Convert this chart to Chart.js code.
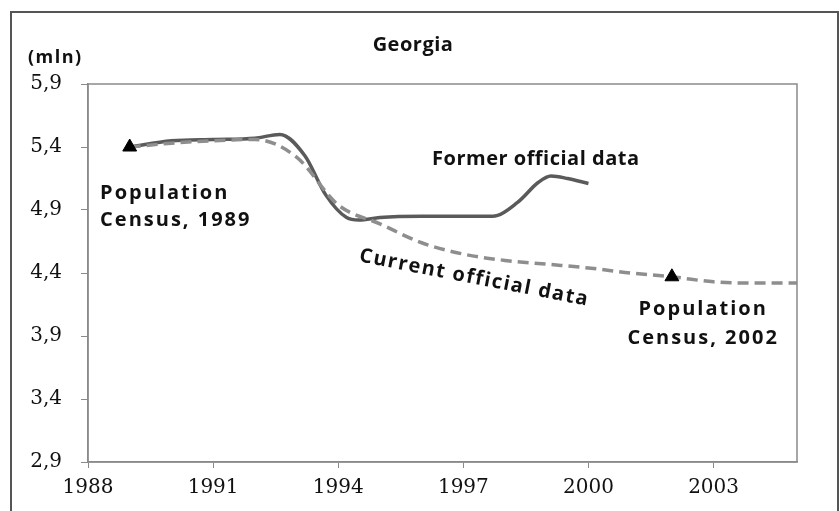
<!DOCTYPE html>
<html>
<head>
<meta charset="utf-8">
<script src="https://cdn.jsdelivr.net/npm/chart.js@4.4.1/dist/chart.umd.min.js"></script>
<style>
  html, body { margin: 0; padding: 0; background: #fff; }
  #wrap { position: relative; width: 840px; height: 511px; }
</style>
</head>
<body>
<div id="wrap"><canvas id="chart" width="840" height="511"></canvas></div>
<script>
// former official data (solid line)
const formerYears  = [1989, 1990, 1991, 1992, 1992.6, 1993.2, 1993.7, 1994.2, 1994.5, 1995, 1996, 1997, 1997.7, 1998.3, 1998.8, 1999.1, 1999.5, 2000];
const formerValues = [5.40, 5.45, 5.46, 5.47, 5.50, 5.33, 5.02, 4.84, 4.82, 4.84, 4.85, 4.85, 4.85, 4.96, 5.12, 5.17, 5.15, 5.11];

// current official data (dashed line)
const currentYears  = [1989, 1990, 1991, 1992, 1993, 1994, 1995, 1996, 1997, 1998, 1999, 2000, 2001, 2002, 2003, 2004, 2005];
const currentValues = [5.40, 5.43, 5.45, 5.46, 5.32, 4.94, 4.79, 4.64, 4.55, 4.50, 4.47, 4.44, 4.40, 4.37, 4.33, 4.32, 4.32];

// census markers
const censusYears  = [1989, 2002];
const censusValues = [5.40, 4.37];

const xTicks = [1988, 1991, 1994, 1997, 2000, 2003];
const yTicks = [2.9, 3.4, 3.9, 4.4, 4.9, 5.4, 5.9];

const toPoints = (xs, ys) => xs.map((x, i) => ({ x, y: ys[i] }));

const textFont = "'Open Sans', sans-serif";

// labels, frame and plot box
const decorPlugin = {
  id: "decor",
  afterDraw(chart) {
    const { ctx, chartArea: a, scales: { x, y } } = chart;
    ctx.save();

    // outer frame
    ctx.strokeStyle = "#555";
    ctx.lineWidth = 2;
    ctx.beginPath();
    ctx.moveTo(11, 520);
    ctx.lineTo(11, 12);
    ctx.lineTo(838, 12);
    ctx.lineTo(838, 520);
    ctx.stroke();

    // plot box
    ctx.strokeStyle = "#8a8a8a";
    ctx.lineWidth = 1.5;
    ctx.strokeRect(a.left, a.top, a.right - a.left, a.bottom - a.top);

    ctx.fillStyle = "#111";
    ctx.textBaseline = "middle";

    ctx.font = "bold 20px " + textFont;
    ctx.letterSpacing = "0.5px";
    ctx.textAlign = "center";
    ctx.fillText("Georgia", 413, 45);

    ctx.font = "bold 18px " + textFont;
    ctx.letterSpacing = "1.5px";
    ctx.textAlign = "left";
    ctx.fillText("(mln)", 28, 58);

    const px = v => x.getPixelForValue(v);
    const py = v => y.getPixelForValue(v);

    ctx.font = "bold 20px " + textFont;
    ctx.letterSpacing = "2px";
    ctx.textAlign = "left";
    ctx.fillText("Population", px(1988.29), py(5.035));
    ctx.fillText("Census, 1989", px(1988.29), py(4.82));
    ctx.textAlign = "center";
    ctx.fillText("Population", px(2002.75), py(4.11));
    ctx.fillText("Census, 2002", px(2002.75), py(3.88));

    ctx.letterSpacing = "0.5px";
    ctx.textAlign = "left";
    ctx.fillText("Former official data", px(1996.25), py(5.30));

    ctx.translate(px(1997.26), py(4.36));
    ctx.rotate(11 * Math.PI / 180);
    ctx.textAlign = "center";
    ctx.letterSpacing = "1.5px";
    ctx.fillText("Current official data", 0, 0);

    ctx.restore();
  }
};

new Chart(document.getElementById("chart").getContext("2d"), {
  type: "line",
  data: {
    datasets: [
      {
        label: "Census",
        data: toPoints(censusYears, censusValues),
        showLine: false,
        pointStyle: "triangle",
        pointRadius: 8,
        backgroundColor: "#000",
        borderColor: "#000",
        order: 0
      },
      {
        label: "Former official data",
        data: toPoints(formerYears, formerValues),
        borderColor: "#5a5a5a",
        borderWidth: 3.5,
        pointRadius: 0,
        tension: 0.4,
        cubicInterpolationMode: "monotone",
        order: 2
      },
      {
        label: "Current official data",
        data: toPoints(currentYears, currentValues),
        borderColor: "#8e8e8e",
        borderWidth: 3.5,
        borderDash: [11, 6],
        pointRadius: 0,
        tension: 0.4,
        cubicInterpolationMode: "monotone",
        order: 1
      }
    ]
  },
  options: {
    responsive: false,
    animation: false,
    layout: { padding: { top: 84, right: 43, left: 0, bottom: 0 } },
    plugins: {
      legend: { display: false },
      tooltip: { enabled: false }
    },
    scales: {
      x: {
        type: "linear",
        min: 1988,
        max: 2005,
        afterBuildTicks: (axis) => { axis.ticks = xTicks.map(v => ({ value: v })); },
        afterFit: (axis) => { axis.height = 49; },
        grid: { display: true, drawOnChartArea: false, drawTicks: true, tickLength: 6, color: "#8a8a8a" },
        border: { color: "#8a8a8a", width: 1.5 },
        ticks: {
          color: "#111",
          padding: 8,
          maxRotation: 0,
          font: { family: "'DejaVu Serif', serif", size: 20 },
          callback: (v) => String(v)
        }
      },
      y: {
        min: 2.9,
        max: 5.9,
        afterBuildTicks: (axis) => { axis.ticks = yTicks.map(v => ({ value: v })); },
        afterFit: (axis) => { axis.width = 88; },
        grid: { display: true, drawOnChartArea: false, drawTicks: true, tickLength: 7, color: "#8a8a8a" },
        border: { color: "#8a8a8a", width: 1.5 },
        ticks: {
          color: "#111",
          padding: 19,
          font: { family: "'DejaVu Serif', serif", size: 20 },
          callback: (v) => v.toFixed(1).replace(".", ",")
        }
      }
    }
  },
  plugins: [decorPlugin]
});
</script>
</body>
</html>
